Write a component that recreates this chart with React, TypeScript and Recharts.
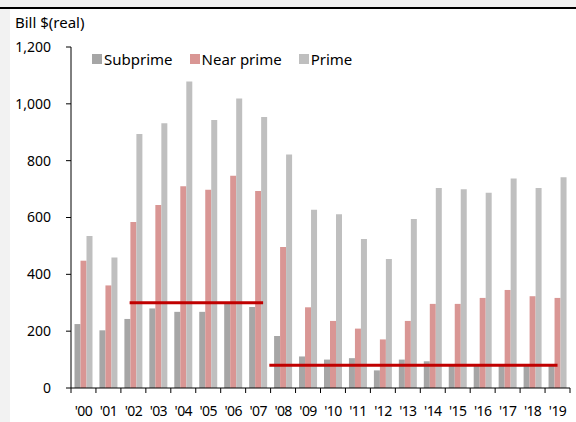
import React from 'react';
import { BarChart, Bar, XAxis, YAxis, ReferenceLine } from 'recharts';

const years = ["'00", "'01", "'02", "'03", "'04", "'05", "'06", "'07", "'08", "'09", "'10", "'11", "'12", "'13", "'14", "'15", "'16", "'17", "'18", "'19"];
const subprime = [225, 203, 243, 280, 268, 268, 300, 285, 183, 111, 100, 105, 62, 100, 94, 82, 78, 80, 80, 78];
const nearPrime = [448, 361, 584, 644, 710, 698, 747, 693, 496, 284, 236, 209, 171, 236, 296, 296, 317, 345, 323, 317];
const prime = [535, 459, 894, 932, 1079, 943, 1019, 954, 822, 627, 611, 524, 454, 595, 704, 699, 687, 737, 704, 742];

const yTicks = [0, 200, 400, 600, 800, 1000, 1200];
// positions along the year axis in category units (0 = left edge of '00)
const boundaryTicks = Array.from({ length: years.length + 1 }, (_, i) => i);
const averages = [
  { from: 2.35, to: 7.7, value: 300 },
  { from: 7.95, to: 19.5, value: 80 },
];

const series = [
  { key: 'subprime', name: 'Subprime', color: '#a6a6a6' },
  { key: 'nearPrime', name: 'Near prime', color: '#d99694' },
  { key: 'prime', name: 'Prime', color: '#bfbfbf' },
];

const data = years.map((year, i) => ({
  year,
  pos: i + 0.5,
  subprime: subprime[i],
  nearPrime: nearPrime[i],
  prime: prime[i],
}));

const font = '"Noto Sans", sans-serif';

const App = () => {
  return (
    <div style={{ position: 'fixed', left: 0, top: 0, width: 576, height: 422, background: '#f2f2f2', fontFamily: font }}>
      <div style={{ position: 'absolute', left: 0, top: 7, width: 576, height: 2, background: '#000' }} />
      <div style={{ position: 'absolute', left: 10, top: 9, width: 566, height: 413, background: '#fff' }}>
        <div style={{ position: 'absolute', left: 5, top: 6, fontSize: 15, lineHeight: '15px', color: '#000' }}>
          Bill $(real)
        </div>
        <div style={{ position: 'absolute', left: 82, top: 40, height: 20, display: 'flex', alignItems: 'center', fontSize: 15, color: '#000' }}>
          {series.map((s) => (
            <div key={s.key} style={{ display: 'flex', alignItems: 'center', marginRight: 17 }}>
              <span style={{ width: 10, height: 10, background: s.color, marginRight: 2, display: 'inline-block' }} />
              <span>{s.name}</span>
            </div>
          ))}
        </div>
        <BarChart
          width={566}
          height={413}
          data={data}
          margin={{ top: 38, right: 6, left: 0, bottom: 0 }}
          barCategoryGap="14%"
          barGap={0}
        >
          <XAxis
            xAxisId="years"
            dataKey="year"
            interval={0}
            axisLine={false}
            tickLine={false}
            tickSize={0}
            tickMargin={17}
            height={33}
            tick={{ fill: '#000', fontSize: 14, fontFamily: font, letterSpacing: -0.6 }}
          />
          <XAxis
            xAxisId="bounds"
            dataKey="pos"
            type="number"
            domain={[0, years.length]}
            ticks={boundaryTicks}
            allowDataOverflow
            tick={() => <g />}
            tickSize={5}
            tickMargin={0}
            height={1}
            axisLine={{ stroke: '#000' }}
            tickLine={{ stroke: '#000' }}
          />
          <YAxis
            domain={[0, 1200]}
            ticks={yTicks}
            width={61}
            tickSize={5}
            tickMargin={15}
            axisLine={{ stroke: '#000' }}
            tickLine={{ stroke: '#000' }}
            tickFormatter={(v: number) => v.toLocaleString('en-US')}
            tick={{ fill: '#000', fontSize: 14, fontFamily: font }}
          />
          {series.map((s) => (
            <Bar key={s.key} xAxisId="years" dataKey={s.key} name={s.name} fill={s.color} isAnimationActive={false} />
          ))}
          {averages.map((a, i) => (
            <ReferenceLine
              key={i}
              xAxisId="bounds"
              segment={[{ x: a.from, y: a.value }, { x: a.to, y: a.value }]}
              stroke="#c00000"
              strokeWidth={3}
              ifOverflow="visible"
            />
          ))}
        </BarChart>
      </div>
    </div>
  );
};

export default App;
